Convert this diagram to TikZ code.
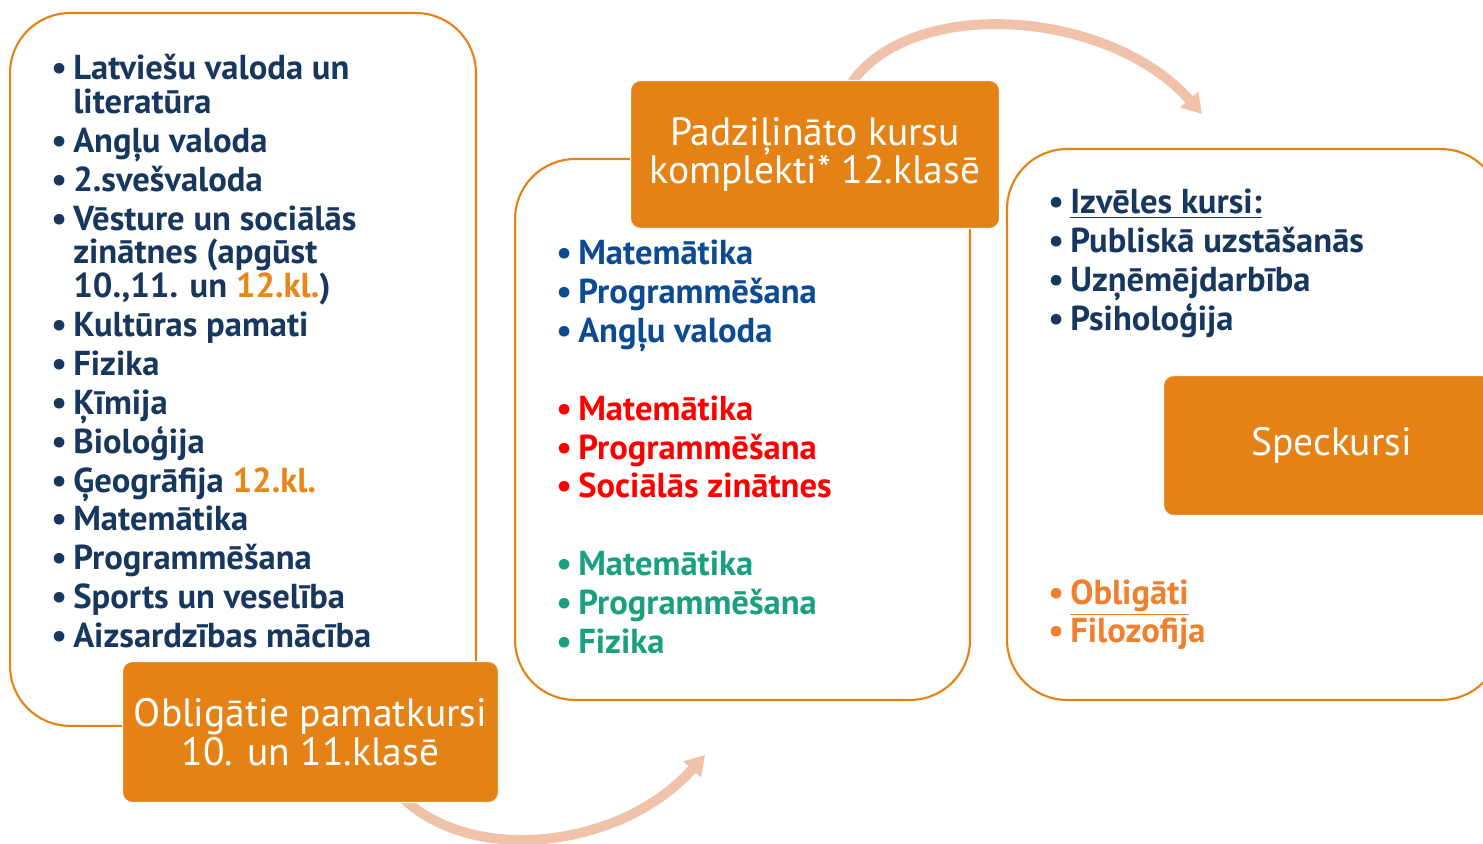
\documentclass[tikz,border=0pt]{standalone}
\usepackage{fontspec}
\setmainfont{PT Sans}
\usetikzlibrary{arrows.meta,positioning}
\definecolor{boxorange}{RGB}{228,130,22}
\definecolor{hlorange}{RGB}{232,134,26}
\definecolor{optorange}{RGB}{240,128,46}
\definecolor{textnavy}{RGB}{23,55,94}
\definecolor{setblue}{RGB}{12,74,145}
\definecolor{setred}{RGB}{255,0,0}
\definecolor{setgreen}{RGB}{26,160,128}
\definecolor{arrowpink}{RGB}{240,194,170}
\newcommand{\itm}{\makebox[12.5pt][l]{\textbullet}}
\newcommand{\ind}{\hspace*{12.5pt}}
\newcommand{\ulin}[1]{\underline{#1}}
\newcommand{\tightlines}{\lineskiplimit=-20pt\relax}

\begin{document}
\begin{tikzpicture}[x=0.02cm,y=-0.02cm,>=Stealth]
    \tikzset{
      panel/.style={draw=boxorange, line width=1.2pt, rounded corners=1.2cm,
        fill=white, anchor=north west, inner sep=0pt},
      header/.style={fill=boxorange, draw=white, line width=0.6pt,
        rounded corners=0.2cm, text=white, align=center, anchor=north west,
        inner sep=0pt, font=\fontsize{22.5}{22}\selectfont},
      bulletlist/.style={anchor=north west, align=left, inner sep=0pt,
        font={\bfseries\fontsize{19.7}{19.3}\selectfont\tightlines}},
      widelist/.style={bulletlist,
        font={\bfseries\fontsize{19.7}{22.1}\selectfont\tightlines}},
      flowarrow/.style={draw=arrowpink, line width=5.6pt,
        -{Triangle[length=11pt,width=13pt]}}
    }
    \useasboundingbox (0,0) rectangle (1483,844);

    % Flow arrows (behind the boxes)
    \coordinate (arrAfrom) at (402,797);
    \coordinate (arrAto) at (705,755);
    \coordinate (arrBfrom) at (852,82);
    \coordinate (arrBto) at (1202,114);
    \draw[flowarrow] (arrAfrom) .. controls (470,865) and (620,850) .. (arrAto);
    \draw[flowarrow] (arrBfrom) .. controls (915,-5) and (1110,10) .. (arrBto);

    % Panels
    \node[panel, minimum width=9.32cm, minimum height=14.26cm] (pnlA) at (9,12) {};
    \node[panel, minimum width=9.10cm, minimum height=10.82cm] (pnlB) at (514,158) {};
    \node[panel, minimum width=9.88cm, minimum height=11.02cm] (pnlC) at (1006,148) {};

    % Headers
    \node[header, minimum width=7.52cm, minimum height=2.82cm] (hdrA) at (122,661)
        {Obligātie pamatkursi\\10. un 11.klasē};
    \node[header, minimum width=7.38cm, minimum height=2.96cm] (hdrB) at (630,80)
        {Padziļināto kursu\\komplekti* 12.klasē};
    \node[header, minimum width=6.72cm, minimum height=2.80cm] (hdrC) at (1163,375)
        {Speckursi};

    % Core courses
    \node[bulletlist, text=textnavy] (listA) at (51,54) {%
        \itm Latviešu valoda un\\
        \ind literatūra\\[2.8pt]
        \itm Angļu valoda\\[2.8pt]
        \itm 2.svešvaloda\\[2.8pt]
        \itm Vēsture un sociālās\\
        \ind zinātnes (apgūst\\
        \ind 10.,11. un \textcolor{hlorange}{12.kl.})\\[2.8pt]
        \itm Kultūras pamati\\[2.8pt]
        \itm Fizika\\[2.8pt]
        \itm Ķīmija\\[2.8pt]
        \itm Bioloģija\\[2.8pt]
        \itm Ģeogrāfija \textcolor{hlorange}{12.kl.}\\[2.8pt]
        \itm Matemātika\\[2.8pt]
        \itm Programmēšana\\[2.8pt]
        \itm Sports un veselība\\[2.8pt]
        \itm Aizsardzības mācība};

    % Advanced course sets
    \node[widelist] (listB) at (556,240) {%
        \textcolor{setblue}{\itm Matemātika}\\
        \textcolor{setblue}{\itm Programmēšana}\\
        \textcolor{setblue}{\itm Angļu valoda}\\[22.1pt]
        \textcolor{setred}{\itm Matemātika}\\
        \textcolor{setred}{\itm Programmēšana}\\
        \textcolor{setred}{\itm Sociālās zinātnes}\\[22.1pt]
        \textcolor{setgreen}{\itm Matemātika}\\
        \textcolor{setgreen}{\itm Programmēšana}\\
        \textcolor{setgreen}{\itm Fizika}};

    % Special courses
    \node[widelist, text=textnavy] (listC) at (1048,189) {%
        \itm \ulin{Izvēles kursi:}\\
        \itm Publiskā uzstāšanās\\
        \itm Uzņēmējdarbība\\
        \itm Psiholoģija};
    \node[widelist, text=optorange] (listD) at (1048,579) {%
        \itm \ulin{Obligāti}\\
        \itm Filozofija};
\end{tikzpicture}
\end{document}
